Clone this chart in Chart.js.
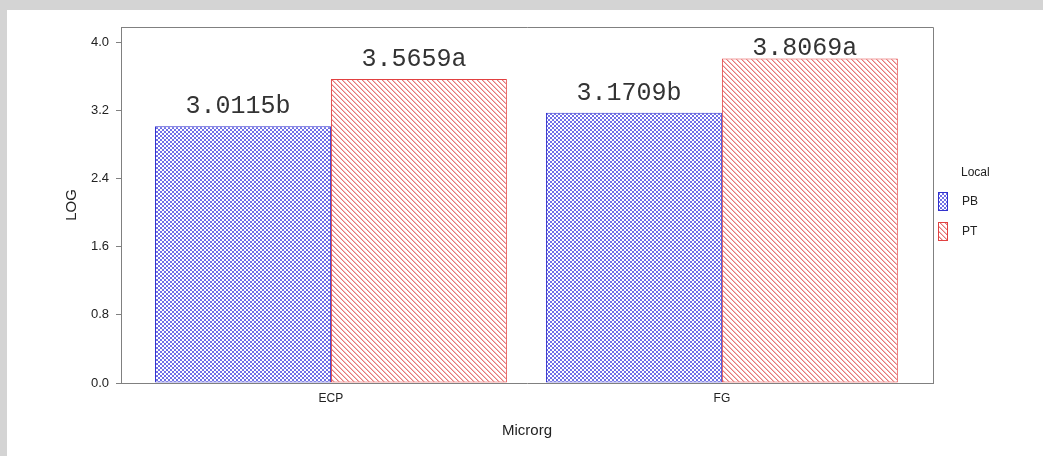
<!DOCTYPE html>
<html>
<head>
<meta charset="utf-8">
<script src="https://cdn.jsdelivr.net/npm/chart.js@4.4.1/dist/chart.umd.min.js"></script>
<style>
  html, body { margin: 0; padding: 0; width: 1043px; height: 456px; overflow: hidden; background: #d4d4d4; }
  #wrap { position: absolute; left: 7px; top: 10px; width: 1036px; height: 446px; background: #fff; }
</style>
</head>
<body>
<div id="wrap"><canvas id="chart" width="1036" height="446"></canvas></div>
<script>
const categories = ['ECP', 'FG'];
const seriesNames = ['PB', 'PT'];
const pbValues = [3.0115, 3.1709];
const ptValues = [3.5659, 3.8069];
const pbLetters = ['b', 'b'];
const ptLetters = ['a', 'a'];
const yTicks = [0, 0.8, 1.6, 2.4, 3.2, 4.0];

Chart.defaults.font.family = 'Arial, "Liberation Sans", sans-serif';
Chart.defaults.color = '#222';

// small pixel tiles for the hatch fills
function makePattern(size, pixels) {
  const c = document.createElement('canvas');
  c.width = c.height = size;
  const g = c.getContext('2d');
  g.fillStyle = '#fff';
  g.fillRect(0, 0, size, size);
  pixels.forEach(p => {
    g.fillStyle = p[2];
    g.fillRect(p[0], p[1], 1, 1);
  });
  return g.createPattern(c, 'repeat');
}

const bluePx = [];
for (let i = 0; i < 4; i++) {
  bluePx.push([i, i, 'rgb(112,112,232)']);
  bluePx.push([3 - i, i, 'rgb(112,112,232)']);
}
const redPx = [];
for (let i = 0; i < 5; i++) {
  redPx.push([i, i, 'rgb(232,118,118)']);
  redPx.push([(i + 1) % 5, i, 'rgb(246,190,190)']);
}
const bluePattern = makePattern(4, bluePx);
const redPattern = makePattern(5, redPx);

const frame = {
  id: 'frame',
  afterDraw(chart) {
    const {ctx, chartArea: a} = chart;
    ctx.save();
    ctx.strokeStyle = '#808080';
    ctx.lineWidth = 1;
    ctx.beginPath();
    ctx.moveTo(a.left, a.top + 0.5);
    ctx.lineTo(a.right + 0.5, a.top + 0.5);
    ctx.lineTo(a.right + 0.5, a.bottom);
    ctx.stroke();
    ctx.restore();
  }
};

const barLabels = {
  id: 'barLabels',
  afterDatasetsDraw(chart) {
    const ctx = chart.ctx;
    const top = chart.chartArea.top;
    ctx.save();
    ctx.font = '25px "Liberation Mono", "Courier New", monospace';
    ctx.fillStyle = '#333';
    ctx.textAlign = 'center';
    ctx.textBaseline = 'alphabetic';
    chart.data.datasets.forEach((ds, di) => {
      chart.getDatasetMeta(di).data.forEach((bar, i) => {
        const txt = ds.data[i].y.toFixed(4) + ds.letters[i];
        // keep the label inside the plot frame
        const y = Math.max(bar.y - 13, top + 28);
        ctx.fillText(txt, bar.x - 5, y);
      });
    });
    ctx.restore();
  }
};

const sideLegend = {
  id: 'sideLegend',
  afterDraw(chart) {
    const ctx = chart.ctx;
    ctx.save();
    ctx.font = '12px Arial, "Liberation Sans", sans-serif';
    ctx.fillStyle = '#222';
    ctx.textBaseline = 'middle';
    ctx.fillText('Local', 954, 163);
    chart.data.datasets.forEach((ds, i) => {
      const y = 182 + i * 30;
      ctx.fillStyle = ds.backgroundColor;
      ctx.fillRect(931, y, 10, 19);
      ctx.strokeStyle = ds.borderColor;
      ctx.strokeRect(931.5, y + 0.5, 9, 18);
      ctx.fillStyle = '#222';
      ctx.fillText(ds.label, 955, y + 10);
    });
    ctx.restore();
  }
};

new Chart(document.getElementById('chart'), {
  type: 'bar',
  data: {
    datasets: [{
      label: seriesNames[0],
      data: pbValues.map((v, i) => ({x: i + 1, y: v})),
      letters: pbLetters,
      backgroundColor: bluePattern,
      borderColor: 'rgb(50,50,205)',
      borderWidth: 1,
      borderSkipped: false,
      categoryPercentage: 0.9,
      barPercentage: 1.0
    }, {
      label: seriesNames[1],
      data: ptValues.map((v, i) => ({x: i + 1, y: v})),
      letters: ptLetters,
      backgroundColor: redPattern,
      borderColor: 'rgb(225,65,65)',
      borderWidth: 1,
      borderSkipped: false,
      categoryPercentage: 0.9,
      barPercentage: 1.0
    }]
  },
  options: {
    responsive: false,
    animation: false,
    layout: {padding: {top: 17, right: 110, left: 0, bottom: 0}},
    plugins: {
      legend: {display: false},
      tooltip: {enabled: false}
    },
    scales: {
      x: {
        type: 'linear',
        min: 0.463,
        max: 2.54,
        offset: false,
        grid: {display: false, drawTicks: false},
        border: {display: true, color: '#808080'},
        afterBuildTicks: s => { s.ticks = categories.map((c, i) => ({value: i + 1})); },
        afterFit: s => { s.height = 73; },
        ticks: {
          padding: 8,
          font: {size: 12},
          color: '#222',
          callback: (v, i) => categories[i]
        },
        title: {display: true, text: 'Microrg', font: {size: 15}, color: '#222', padding: {top: 0, bottom: 16}}
      },
      y: {
        min: 0,
        max: 4.176,
        grid: {display: true, drawOnChartArea: false, drawTicks: true, tickLength: 5, color: '#808080'},
        border: {display: true, color: '#808080'},
        afterBuildTicks: s => { s.ticks = yTicks.map(v => ({value: v})); },
        afterFit: s => { s.width = 114; },
        ticks: {
          padding: 7,
          font: {size: 13},
          color: '#222',
          callback: v => v.toFixed(1)
        },
        title: {display: true, text: 'LOG', font: {size: 15}, color: '#222', padding: {top: 56, bottom: 0}}
      }
    }
  },
  plugins: [frame, barLabels, sideLegend]
});
</script>
</body>
</html>
